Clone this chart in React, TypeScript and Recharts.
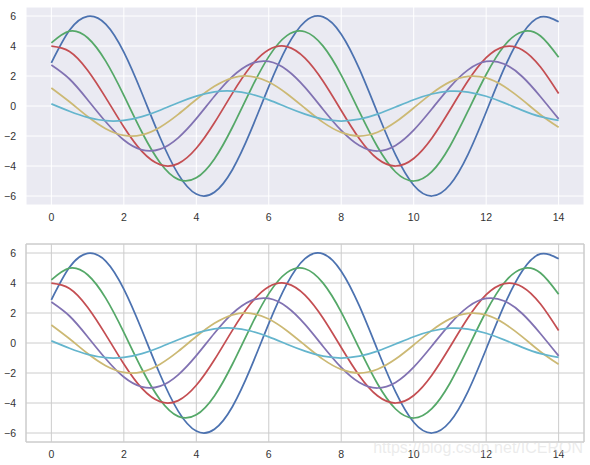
import React from "react";
import { LineChart, Line, XAxis, YAxis, CartesianGrid, ReferenceArea } from "recharts";

const xValues = [0,0.5,1,1.5,2,2.5,3,3.5,4,4.5,5,5.5,6,6.5,7,7.5,8,8.5,9,9.5,10,10.5,11,11.5,12,12.5,13,13.5,14];
const blue = [2.88,5.05,5.98,5.46,3.59,0.85,-2.10,-4.54,-5.87,-5.75,-4.23,-1.68,1.29,3.94,5.63,5.94,4.79,2.47,-0.45,-3.26,-5.28,-6.00,-5.25,-3.22,-0.40,2.52,4.82,5.94,5.61];
const green = [4.21,4.99,4.55,2.99,0.71,-1.75,-3.78,-4.89,-4.79,-3.53,-1.40,1.08,3.29,4.69,4.95,3.99,2.06,-0.38,-2.72,-4.40,-5.00,-4.38,-2.68,-0.33,2.10,4.02,4.95,4.67,3.25];
const red = [3.99,3.64,2.39,0.56,-1.40,-3.03,-3.91,-3.84,-2.82,-1.12,0.86,2.63,3.75,3.96,3.19,1.65,-0.30,-2.18,-3.52,-4.00,-3.50,-2.15,-0.27,1.68,3.22,3.96,3.74,2.60,0.83];
const purple = [2.73,1.80,0.42,-1.05,-2.27,-2.93,-2.88,-2.12,-0.84,0.65,1.97,2.81,2.97,2.40,1.24,-0.23,-1.63,-2.64,-3.00,-2.63,-1.61,-0.20,1.26,2.41,2.97,2.80,1.95,0.62,-0.86];
const yellow = [1.20,0.28,-0.70,-1.51,-1.96,-1.92,-1.41,-0.56,0.43,1.31,1.88,1.98,1.60,0.82,-0.15,-1.09,-1.76,-2.00,-1.75,-1.07,-0.13,0.84,1.61,1.98,1.87,1.30,0.41,-0.58,-1.42];
const cyan = [0.14,-0.35,-0.76,-0.98,-0.96,-0.71,-0.28,0.22,0.66,0.94,0.99,0.80,0.41,-0.08,-0.54,-0.88,-1.00,-0.88,-0.54,-0.07,0.42,0.80,0.99,0.93,0.65,0.21,-0.29,-0.71,-0.96];

const xTicks = [0,2,4,6,8,10,12,14];
const yTicks = [-6,-4,-2,0,2,4,6];
const xDomain: [number, number] = [-0.7, 14.7];
const yDomain: [number, number] = [-6.6, 6.6];

const seriesList = [
  { key: "blue", values: blue, color: "#4C72B0" },
  { key: "green", values: green, color: "#55A868" },
  { key: "red", values: red, color: "#C44E52" },
  { key: "purple", values: purple, color: "#8172B2" },
  { key: "yellow", values: yellow, color: "#CCB974" },
  { key: "cyan", values: cyan, color: "#64B5CD" },
];

const rows = xValues.map((x, i) => {
  const row: Record<string, number> = { x };
  seriesList.forEach((s) => { row[s.key] = s.values[i]; });
  return row;
});

const FONT = "'Liberation Sans', Arial, sans-serif";
const tickStyle = { fontFamily: FONT, fontSize: 10.5, fill: "#333333" };
const fmt = (v: number) => String(v).replace("-", "\u2212");

function Panel({ top, bg, gridColor, border }: { top: number; bg: string; gridColor: string; border: boolean }) {
  return (
    <div style={{ position: "absolute", left: 0, top }}>
      <LineChart width={590} height={225} data={rows} margin={{ top: 7, right: 6, bottom: 0, left: 0 }}>
        <CartesianGrid fill={bg} stroke={gridColor} strokeWidth={1} strokeOpacity={1} />
        <XAxis
          type="number"
          dataKey="x"
          domain={xDomain}
          ticks={xTicks}
          allowDataOverflow
          height={20}
          axisLine={false}
          tickLine={false}
          tick={tickStyle}
          tickMargin={3}
          interval={0}
        />
        <YAxis
          type="number"
          domain={yDomain}
          ticks={yTicks}
          allowDataOverflow
          width={26}
          axisLine={false}
          tickLine={false}
          tick={tickStyle}
          tickMargin={4}
          tickFormatter={fmt}
          interval={0}
        />
        {border && (
          <ReferenceArea x1={xDomain[0]} x2={xDomain[1]} y1={yDomain[0]} y2={yDomain[1]} fill="none" stroke={gridColor} strokeWidth={1} fillOpacity={0} />
        )}
        {seriesList.map((s) => (
          <Line
            key={s.key}
            type="natural"
            dataKey={s.key}
            stroke={s.color}
            strokeWidth={1.75}
            dot={false}
            activeDot={false}
            isAnimationActive={false}
          />
        ))}
      </LineChart>
    </div>
  );
}

export default function App() {
  return (
    <div style={{ position: "absolute", left: 0, top: 0, width: 590, height: 465, background: "#fff", overflow: "hidden" }}>
      <Panel top={0} bg="#EAEAF2" gridColor="#FFFFFF" border={false} />
      <Panel top={237} bg="#FFFFFF" gridColor="#CCCCCC" border={true} />
      <div
        style={{
          position: "absolute",
          right: 7,
          top: 439,
          fontFamily: FONT,
          fontSize: 16,
          color: "rgba(222,222,222,0.6)",
          whiteSpace: "nowrap",
        }}
      >
        https://blog.csdn.net/ICERON
      </div>
    </div>
  );
}
